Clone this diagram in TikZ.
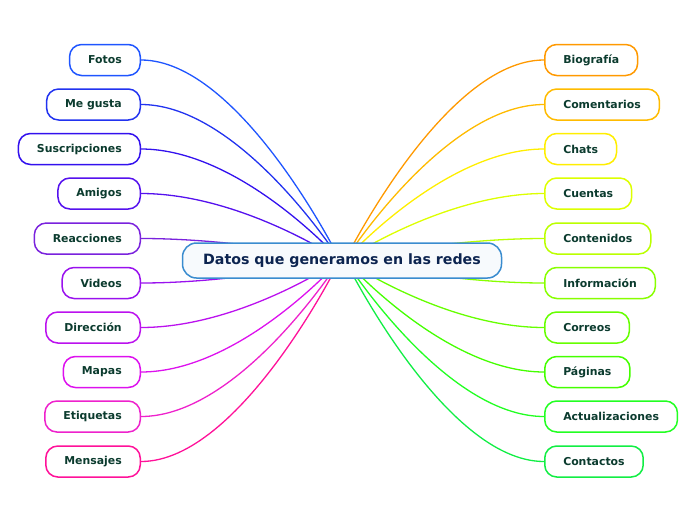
\documentclass[tikz,border=0pt]{standalone}
\usepackage{fontspec}
\setmainfont{DejaVu Sans}
\usetikzlibrary{calc}
\definecolor{leaftext}{HTML}{0B3B2E}
\definecolor{maintext}{HTML}{0C2450}
\definecolor{mainborder}{HTML}{3A8CCF}
\definecolor{mainfill}{HTML}{F7FAFD}
\definecolor{cA}{HTML}{1F55FF}
\definecolor{cB}{HTML}{2233F0}
\definecolor{cC}{HTML}{3311EE}
\definecolor{cD}{HTML}{5511EE}
\definecolor{cE}{HTML}{7A22DD}
\definecolor{cF}{HTML}{9911EE}
\definecolor{cG}{HTML}{BB11EE}
\definecolor{cH}{HTML}{DD11EE}
\definecolor{cI}{HTML}{EE22CC}
\definecolor{cJ}{HTML}{FF1199}
\definecolor{dA}{HTML}{FF9900}
\definecolor{dB}{HTML}{FFBB00}
\definecolor{dC}{HTML}{FFEE00}
\definecolor{dD}{HTML}{DDFF00}
\definecolor{dE}{HTML}{BBFF00}
\definecolor{dF}{HTML}{88FF00}
\definecolor{dG}{HTML}{66FF00}
\definecolor{dH}{HTML}{44FF00}
\definecolor{dI}{HTML}{22FF22}
\definecolor{dJ}{HTML}{11EE44}
\tikzset{
  leaf/.style={draw, line width=1.5pt, rounded corners=12pt, fill=white,
    minimum height=31pt, inner xsep=18.5pt, inner ysep=0pt,
    text=leaftext, font=\fontsize{10.9}{12}\selectfont\bfseries},
  link/.style={line width=1.3pt},
  hub/.style={draw=mainborder, line width=1.5pt, rounded corners=14pt, fill=mainfill,
    minimum width=319pt, minimum height=35pt, text=maintext,
    font=\fontsize{14.2}{16}\selectfont\bfseries}
}
\begin{document}
\begin{tikzpicture}[x=1pt,y=-1pt]
\useasboundingbox (0,0) rectangle (696,520);
\coordinate (hl) at (340,260);
\coordinate (hr) at (345,260);
\foreach \n/\t/\y/\c in {
  a/Fotos/60/cA, b/Me gusta/104.5/cB, c/Suscripciones/149/cC, d/Amigos/193.5/cD,
  e/Reacciones/238.5/cE, f/Videos/283/cF, g/Dirección/327.5/cG, h/Mapas/372/cH,
  i/Etiquetas/416.5/cI, j/Mensajes/461.5/cJ}{
  \node[leaf, draw=\c, anchor=east] (L\n) at (141,\y) {\t};
  \draw[link, \c] (L\n.east) .. controls ($(L\n.east)!0.5!(hl|-L\n.east)$) and (hl) .. (hl);
}
\foreach \n/\t/\y/\c in {
  a/Biografía/60/dA, b/Comentarios/104.5/dB, c/Chats/149/dC, d/Cuentas/193.5/dD,
  e/Contenidos/238.5/dE, f/Información/283/dF, g/Correos/327.5/dG, h/Páginas/372/dH,
  i/Actualizaciones/416.5/dI, j/Contactos/461.5/dJ}{
  \node[leaf, draw=\c, anchor=west] (R\n) at (544,\y) {\t};
  \draw[link, \c] (R\n.west) .. controls ($(R\n.west)!0.5!(hr|-R\n.west)$) and (hr) .. (hr);
}
\node[hub] (main) at (342,260.5) {Datos que generamos en las redes};
\end{tikzpicture}
\end{document}
